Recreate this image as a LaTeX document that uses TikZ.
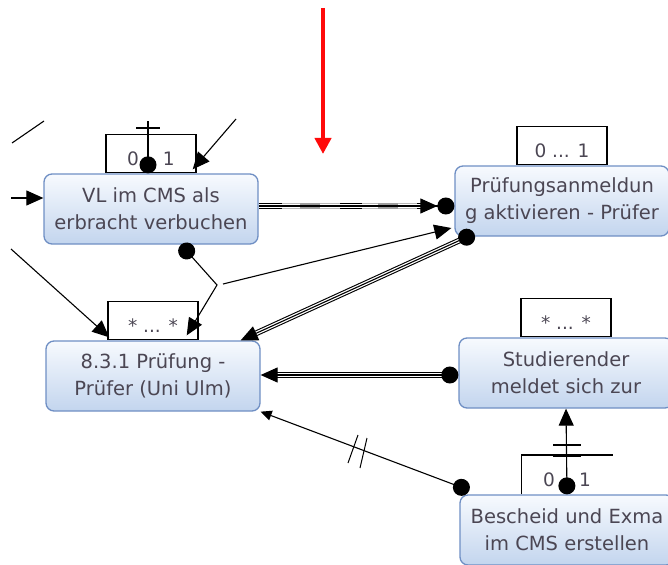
\documentclass[tikz,border=0pt]{standalone}
\usepackage{fontspec}
\setmainfont{DejaVu Sans}
\usetikzlibrary{arrows.meta,backgrounds,positioning}
\definecolor{boxblue}{HTML}{6F8FC4}
\definecolor{boxtop}{HTML}{F7FAFE}
\definecolor{boxbottom}{HTML}{C3D5EE}
\definecolor{boxtext}{HTML}{4B4653}
\definecolor{markred}{HTML}{FF0A0A}
\tikzset{
  actbox/.style={
    draw=boxblue,
    top color=boxtop,
    bottom color=boxbottom,
    rounded corners=8pt,
    line width=1.3pt,
    align=center,
    minimum width=214pt,
    minimum height=70pt,
    inner sep=0pt,
    text=boxtext,
    font=\fontsize{19.5}{27}\selectfont
  },
  cardbox/.style={
    draw=black,
    line width=1.4pt,
    minimum width=90pt,
    minimum height=38pt,
    inner sep=0pt,
    text height=24pt,
    text depth=0pt,
    text=boxtext,
    font=\fontsize{18.5}{20}\selectfont
  },
  flowarrow/.style={
    -{Triangle[length=17pt,width=15pt]},
    line width=1.1pt
  },
  dotflow/.style={
    {Circle[length=17pt]}-{Triangle[length=17pt,width=15pt]},
    line width=1.1pt
  },
  triplerail/.style={
    double,
    double distance=3.6pt,
    line width=1.1pt
  },
  crossbar/.style={
    line width=1.4pt
  }
}

\begin{document}
\begin{tikzpicture}[x=1pt,y=-1pt]
    \useasboundingbox (0,0) rectangle (668,564);
    \clip (0,0) rectangle (668,564);

    \node[actbox] (vl) at (151,209) {VL im CMS als\\erbracht verbuchen};
    \node[actbox] (anm) at (562,201) {Prüfungsanmeldun\\g aktivieren - Prüfer};
    \node[actbox] (pruef) at (153,376) {8.3.1 Prüfung -\\Prüfer (Uni Ulm)};
    \node[actbox] (stud) at (566,373) {Studierender\\meldet sich zur};
    \node[actbox] (besch) at (567,530) {Bescheid und Exma\\im CMS erstellen};

    \begin{scope}[on background layer]
        \node[cardbox, above=0pt of vl] (vlcard) {0\hspace{24pt}1};
        \node[cardbox, above=0pt of anm] (anmcard) {0 ... 1};
        \node[cardbox, above=0pt of pruef] (pruefcard) {* ... *};
        \node[cardbox, above=0pt of stud] (studcard) {* ... *};
        \node[cardbox, draw=none, above=0pt of besch] (beschcard) {0\hspace{24pt}1};
    \end{scope}
    \draw[crossbar] (beschcard.south west) -- (beschcard.north west) -- (beschcard.north east);

    \coordinate (vltop) at (148,121);
    \coordinate (feedne) at (236,119);
    \coordinate (strayA) at (12,143);
    \coordinate (strayB) at (44,121);
    \coordinate (feedw) at (11,198);
    \coordinate (feedsw) at (11,249);
    \coordinate (kink) at (217,285);
    \coordinate (kinkout) at (223,284);
    \coordinate (redtop) at (323,8);
    \coordinate (redtip) at (323,154);

    % triple connectors
    \draw[triplerail, shorten >=24pt] ([yshift=3pt]vl.east) -- ([yshift=3pt]vl.east -| anm.west);
    \draw[triplerail, draw=gray!55] (282,206) -- (340,206);
    \draw[triplerail, draw=gray!55] (362,206) -- (417,206);
    \draw[line width=5.8pt, gray!75] (300,206) -- (320,206);
    \draw[line width=5.8pt, gray!75] (378,206) -- (398,206);
    \draw[line width=1.1pt, -{Triangle[length=17pt,width=15pt] Circle[length=17pt]}]
        ([yshift=3pt]vl.east) -- ([yshift=3pt]vl.east -| anm.west);

    \draw[triplerail, shorten <=12pt, shorten >=12pt] ([xshift=20pt,yshift=3pt]anm.south west) -- ([xshift=-20pt]pruef.north east);
    \draw[line width=1.1pt, {Circle[length=17pt]}-{Triangle[length=17pt,width=15pt]}]
        ([xshift=20pt,yshift=3pt]anm.south west) -- ([xshift=-20pt]pruef.north east);

    \draw[triplerail, shorten <=12pt, shorten >=12pt] ([yshift=-2pt]stud.west) -- ([yshift=-2pt]stud.west -| pruef.east);
    \draw[line width=1.1pt, {Circle[length=17pt]}-{Triangle[length=17pt,width=15pt]}]
        ([yshift=-2pt]stud.west) -- ([yshift=-2pt]stud.west -| pruef.east);

    % single connectors
    \draw[line width=1.1pt, {Circle[length=17pt]}-{Triangle[length=11pt,width=10pt]}]
        ([xshift=10pt,yshift=4pt]besch.north west) -- (pruef.south east);
    \draw[line width=1pt] (358,435) -- (348,463);
    \draw[line width=1pt] (367,438) -- (360,468);

    \draw[dotflow] (besch.north) -- (stud.south);
    \draw[crossbar] (553,445) -- (581,445);
    \draw[crossbar] (553,456) -- (581,456);

    \draw[line width=1.1pt, {Circle[length=17pt]}-] ([xshift=-3pt]vl.north) -- (vltop);
    \draw[crossbar] (136,128) -- (160,128);

    \draw[flowarrow] (feedne) -- ([xshift=-4pt,yshift=4pt]vlcard.south east);
    \draw[line width=1.1pt] (strayA) -- (strayB);
    \draw[flowarrow] (feedw) -- (feedw -| vl.west);
    \draw[flowarrow] (feedsw) -- ([xshift=2pt,yshift=3pt]pruefcard.south west);
    \draw[line width=1.1pt, {Circle[length=17pt]}-{Triangle[length=17pt,width=15pt]}]
        ([xshift=30pt]vl.south) -- (kink) -- ([xshift=-12pt,yshift=5pt]pruefcard.south east);
    \draw[flowarrow] (kinkout) -- ([xshift=-3pt,yshift=-27pt]anm.west);

    \draw[markred, line width=4pt, -{Triangle[length=16pt,width=16pt]}] (redtop) -- (redtip);
\end{tikzpicture}
\end{document}
